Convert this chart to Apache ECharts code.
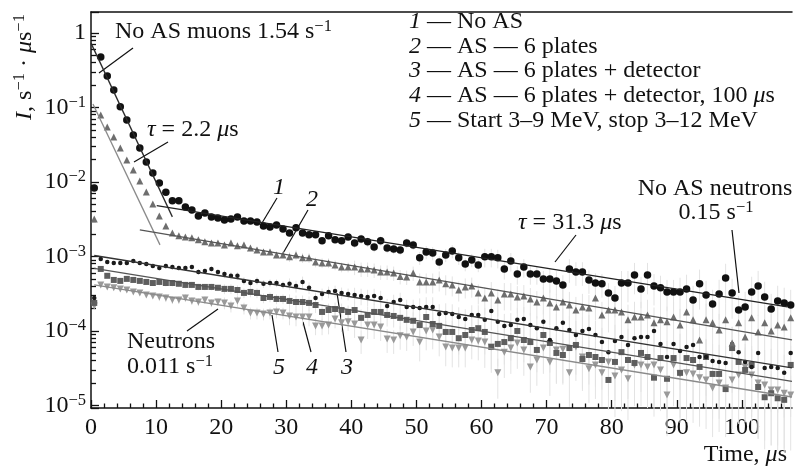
<!DOCTYPE html>
<html>
<head>
<meta charset="utf-8">
<title>Count rate vs time</title>
<script src="https://cdn.jsdelivr.net/npm/echarts@6.0.0/dist/echarts.min.js"></script>
<style>
  html, body { margin: 0; padding: 0; background: #fff; }
  #chart { width: 795px; height: 468px; }
</style>
</head>
<body>
<div id="chart"></div>
<script>
// bin centres, microseconds
const binT = [
  0.5, 1.5, 2.5, 3.5, 4.5, 5.5, 6.5, 7.5, 8.5, 9.5,
  10.5, 11.5, 12.5, 13.5, 14.5, 15.5, 16.5, 17.5, 18.5, 19.5,
  20.5, 21.5, 22.5, 23.5, 24.5, 25.5, 26.5, 27.5, 28.5, 29.5,
  30.5, 31.5, 32.5, 33.5, 34.5, 35.5, 36.5, 37.5, 38.5, 39.5,
  40.5, 41.5, 42.5, 43.5, 44.5, 45.5, 46.5, 47.5, 48.5, 49.5,
  50.5, 51.5, 52.5, 53.5, 54.5, 55.5, 56.5, 57.5, 58.5, 59.5,
  60.5, 61.5, 62.5, 63.5, 64.5, 65.5, 66.5, 67.5, 68.5, 69.5,
  70.5, 71.5, 72.5, 73.5, 74.5, 75.5, 76.5, 77.5, 78.5, 79.5,
  80.5, 81.5, 82.5, 83.5, 84.5, 85.5, 86.5, 87.5, 88.5, 89.5,
  90.5, 91.5, 92.5, 93.5, 94.5, 95.5, 96.5, 97.5, 98.5, 99.5,
  100.5, 101.5, 102.5, 103.5, 104.5, 105.5, 106.5, 107.5
]

// 1 - No AS
const noAS = [
  8.3e-3, 0.476, 0.265, 0.172, 0.102, 0.068, 0.0428, 0.0286, 0.0185, 0.0132,
  9.7e-3, 7.3e-3, 5.6e-3, 5.6e-3, 4.6e-3, 4.2e-3, 3.5e-3, 3.84e-3, 3.39e-3, 3.29e-3,
  3.09e-3, 3.19e-3, 3.39e-3, 3.0e-3, 3.0e-3, 2.9e-3, 2.57e-3, 2.49e-3, 2.65e-3, 2.34e-3,
  2.07e-3, 2.42e-3, 2.07e-3, 1.95e-3, 1.95e-3, 1.62e-3, 1.89e-3, 1.67e-3, 1.62e-3, 1.83e-3,
  1.52e-3, 1.72e-3, 1.57e-3, 1.34e-3, 1.62e-3, 1.3e-3, 1.26e-3, 1.22e-3, 1.52e-3, 1.43e-3,
  9.6e-4, 1.15e-3, 1.11e-3, 8.4e-4, 1.05e-3, 1.18e-3, 9.6e-4, 7.9e-4, 8.97e-4, 7.69e-4,
  9.9e-4, 9.9e-4, 9.6e-4, 6.8e-4, 8.7e-4, 5.8e-4, 7.2e-4, 5.8e-4, 5.8e-4, 5.0e-4,
  5.0e-4, 4.7e-4, 4.15e-4, 6.8e-4, 6.2e-4, 6.2e-4, 4.84e-4, 4.4e-4, 4.3e-4, 3.24e-4,
  2.77e-4, 4.4e-4, 4.4e-4, 5.65e-4, 3.67e-4, 5.65e-4, 4.0e-4, 3.8e-4, 3.34e-4, 3.34e-4,
  3.34e-4, 3.67e-4, 2.61e-4, 4.3e-4, 3.04e-4, 2.3e-4, 3.14e-4, 5.15e-4, 3.24e-4, 1.91e-4,
  2.1e-4, 3.34e-4, 4.0e-4, 2.86e-4, 1.97e-4, 2.53e-4, 2.38e-4, 2.23e-4
]

// 2 - AS, 6 plates
const as6 = [
  3.19e-3, 0.0793, 0.0547, 0.0402, 0.0286, 0.0197, 0.0145, 0.0103, 7.34e-3, 5.07e-3,
  3.5e-3, 2.57e-3, 2.07e-3, 1.89e-3, 1.83e-3, 1.78e-3, 1.67e-3, 1.57e-3, 1.52e-3, 1.52e-3,
  1.43e-3, 1.52e-3, 1.39e-3, 1.43e-3, 1.3e-3, 1.22e-3, 1.15e-3, 1.15e-3, 1.05e-3, 1.05e-3,
  9.9e-4, 1.05e-3, 9.6e-4, 9.6e-4, 8.4e-4, 8.2e-4, 8.2e-4, 7.69e-4, 7.2e-4, 7.2e-4,
  7.2e-4, 6.8e-4, 6.8e-4, 6.59e-4, 6.2e-4, 6.2e-4, 6.0e-4, 5.4e-4, 5.3e-4, 6.0e-4,
  4.55e-4, 4.55e-4, 4.55e-4, 4.84e-4, 4.3e-4, 4.15e-4, 3.55e-4, 3.9e-4, 4.0e-4, 3.24e-4,
  2.77e-4, 3.24e-4, 2.61e-4, 3.14e-4, 3.14e-4, 2.86e-4, 2.95e-4, 2.69e-4, 2.45e-4, 2.77e-4,
  2.38e-4, 2.1e-4, 2.45e-4, 2.23e-4, 1.91e-4, 2.1e-4, 2.03e-4, 2.77e-4, 1.64e-4, 1.91e-4,
  1.91e-4, 1.8e-4, 1.41e-4, 1.54e-4, 1.54e-4, 1.64e-4, 1.29e-4, 1.41e-4, 1.33e-4, 1.54e-4,
  1.2e-4, 1.8e-4, 1.41e-4, 7.57e-5, 1.41e-4, 1.29e-4, 1.03e-4, 1.41e-4, 6.9e-5, 1.29e-4,
  8.3e-5, 1.5e-4, 9.7e-5, 1.29e-4, 1.0e-4, 1.2e-4, 1.13e-4, 1.5e-4
]

// 3 - AS, 6 plates + detector
const as6Det = [
  2.77e-4, 9.25e-4, 8.4e-4, 8.2e-4, 8.2e-4, 8.2e-4, 8.7e-4, 8.2e-4, 7.9e-4, 7.46e-4,
  7.0e-4, 7.46e-4, 7.2e-4, 7.0e-4, 7.0e-4, 7.2e-4, 6.2e-4, 6.4e-4, 6.8e-4, 6.2e-4,
  5.8e-4, 5.5e-4, 5.5e-4, 4.7e-4, 4.4e-4, 4.7e-4, 4.3e-4, 4.4e-4, 4.4e-4, 4.15e-4,
  4.3e-4, 4.0e-4, 4.55e-4, 3.8e-4, 2.77e-4, 3.14e-4, 3.34e-4, 3.44e-4, 3.24e-4, 3.14e-4,
  3.04e-4, 2.95e-4, 2.86e-4, 2.95e-4, 2.77e-4, 2.16e-4, 2.45e-4, 2.61e-4, 2.1e-4, 2.1e-4,
  2.03e-4, 2.1e-4, 2.1e-4, 1.69e-4, 1.74e-4, 1.69e-4, 1.54e-4, 1.45e-4, 1.64e-4, 1.64e-4,
  1.41e-4, 1.85e-4, 1.33e-4, 1.17e-4, 1.2e-4, 1.41e-4, 1.45e-4, 1.2e-4, 1.09e-4, 1.33e-4,
  7.57e-5, 1.09e-4, 1.29e-4, 1.03e-4, 8.83e-5, 1.0e-4, 1.06e-4, 8.83e-5, 7.1e-5, 5.2e-5,
  7.34e-5, 8.3e-5, 6.49e-5, 8.0e-5, 8.3e-5, 8.3e-5, 1.0e-4, 6.7e-5, 4.47e-5, 6.7e-5,
  5.4e-5, 6.1e-5, 6.49e-5, 4.47e-5, 4.47e-5, 3.96e-5, 3.84e-5, 3.72e-5, 6.7e-5, 5.2e-5,
  3.84e-5, 3.29e-5, 5.07e-5, 3.19e-5, 3.29e-5, 3.19e-5, 2.74e-5, 5.07e-5
]

// 4 - AS, 6 plates + detector, 100 us
const as6Det100 = [
  2.38e-4, 6.8e-4, 5.5e-4, 4.84e-4, 4.7e-4, 5.0e-4, 4.84e-4, 4.7e-4, 4.55e-4, 4.4e-4,
  4.55e-4, 4.4e-4, 4.4e-4, 4.3e-4, 4.15e-4, 4.15e-4, 3.9e-4, 3.9e-4, 3.9e-4, 3.8e-4,
  3.67e-4, 3.67e-4, 3.55e-4, 3.24e-4, 3.34e-4, 3.24e-4, 2.77e-4, 2.86e-4, 2.69e-4, 2.69e-4,
  2.53e-4, 2.45e-4, 2.45e-4, 2.38e-4, 2.23e-4, 1.8e-4, 1.91e-4, 1.97e-4, 1.91e-4, 1.8e-4,
  1.91e-4, 1.5e-4, 1.64e-4, 1.8e-4, 1.8e-4, 1.64e-4, 1.59e-4, 1.5e-4, 1.41e-4, 1.37e-4,
  1.2e-4, 1.54e-4, 1.24e-4, 1.17e-4, 9.7e-5, 9.7e-5, 8.0e-5, 8.83e-5, 1.03e-4, 1.09e-4,
  9.7e-5, 6.1e-5, 6.7e-5, 7.1e-5, 8.0e-5, 1.0e-4, 7.57e-5, 7.1e-5, 5.56e-5, 8.83e-5,
  6.9e-5, 5.07e-5, 4.76e-5, 5.9e-5, 6.49e-5, 4.2e-5, 4.76e-5, 4.47e-5, 4.08e-5, 2.2e-5,
  3.84e-5, 5.2e-5, 4.08e-5, 3.72e-5, 5.07e-5, 4.47e-5, 2.36e-5, 4.33e-5, 2.28e-5, 4.33e-5,
  2.74e-5, 4.33e-5, 4.08e-5, 3.29e-5, 4.47e-5, 2.65e-5, 2.65e-5, 1.66e-5, 5.9e-5, 3.84e-5,
  3.0e-5, 3.5e-5, 1.77e-5, 1.29e-5, 1.46e-5, 1.25e-5, 1.19e-5, 3.5e-5
]

// 5 - start 3-9 MeV, stop 3-12 MeV
const startStop = [
  2.16e-4, 4.15e-4, 3.9e-4, 3.8e-4, 3.67e-4, 3.55e-4, 3.34e-4, 3.24e-4, 3.04e-4, 2.95e-4,
  2.86e-4, 2.77e-4, 2.61e-4, 2.61e-4, 2.77e-4, 2.53e-4, 2.45e-4, 2.61e-4, 2.38e-4, 2.45e-4,
  2.38e-4, 2.16e-4, 2.53e-4, 2.03e-4, 1.74e-4, 1.74e-4, 1.69e-4, 1.74e-4, 1.8e-4, 1.74e-4,
  1.59e-4, 1.54e-4, 1.54e-4, 1.54e-4, 1.17e-4, 1.17e-4, 1.2e-4, 1.45e-4, 1.29e-4, 1.33e-4,
  1.24e-4, 7.57e-5, 1.2e-4, 1.2e-4, 1.13e-4, 7.8e-5, 7.57e-5, 8.6e-5, 8.3e-5, 9.7e-5,
  7.1e-5, 1.0e-4, 1.03e-4, 8.3e-5, 6.1e-5, 5.9e-5, 5.9e-5, 5.9e-5, 7.57e-5, 7.34e-5,
  7.1e-5, 6.1e-5, 2.74e-5, 5.2e-5, 5.9e-5, 6.9e-5, 5.56e-5, 3.29e-5, 4.08e-5, 5.9e-5,
  3.84e-5, 5.56e-5, 5.7e-5, 2.74e-5, 6.1e-5, 4.47e-5, 3.1e-5, 3.5e-5, 2.74e-5, 3.84e-5,
  2.49e-5, 3.0e-5, 2.28e-5, 3.5e-5, 3.5e-5, 3.29e-5, 3.5e-5, 3.0e-5, 1.38e-5, 3.5e-5,
  2.65e-5, 2.74e-5, 2.65e-5, 2.36e-5, 2.2e-5, 1.71e-5, 2.0e-5, 1.71e-5, 2.2e-5, 2.57e-5,
  3.29e-5, 2.57e-5, 2.0e-5, 1.88e-5, 1.61e-5, 1.61e-5, 1.46e-5, 1.38e-5
]

// relative error per 10 us block (0-10, 10-20, ... 100-108)
const noASErr = [0.02, 0.04, 0.06, 0.1, 0.15, 0.2, 0.28, 0.35, 0.45, 0.55, 0.6]
const as6Err = [0.03, 0.06, 0.1, 0.15, 0.22, 0.3, 0.4, 0.5, 0.6, 0.65, 0.7]
const as6DetErr = [0.05, 0.08, 0.12, 0.18, 0.25, 0.35, 0.45, 0.55, 0.65, 0.7, 0.75]
const as6Det100Err = [0.06, 0.1, 0.15, 0.22, 0.3, 0.4, 0.5, 0.6, 0.7, 0.75, 0.8]
const startStopErr = [0.07, 0.12, 0.18, 0.25, 0.35, 0.45, 0.55, 0.65, 0.72, 0.78, 0.82]

// fitted exponentials, end points [t, I]
const fitMuonNoAS = [[0, 0.73], [12.5, 3.4e-3]]
const fitMuonAS = [[0.3, 0.111], [10.6, 1.43e-3]]
const fitNoAS = [[10.1, 4.8e-3], [107, 2.1e-4]]
const fitAS6 = [[7.5, 2.27e-3], [107.7, 7.6e-5]]
const fitAS6Det = [[0.5, 1.03e-3], [107.7, 3.2e-5]]
const fitAS6Det100 = [[0.5, 6.9e-4], [107.7, 2.1e-5]]
const fitStartStop = [[0.5, 4.15e-4], [107.7, 1.3e-5]]

const xLabels = [0, 10, 20, 30, 40, 50, 60, 70, 80, 90, 100]
const yDecades = [1e-5, 1e-4, 1e-3, 1e-2, 1e-1, 1]

const X_MAX = 107.7
const Y_MIN = 9.25e-6
const Y_MAX = 1.91
const FF = 'Liberation Serif'
const INK = '#111'
const FS = 24

const R = {
    n: { fontSize: FS, lineHeight: 27, fontFamily: FF, fill: INK },
    i: { fontSize: FS, lineHeight: 27, fontFamily: FF, fontStyle: 'italic', fill: INK },
    s: { fontSize: 16.5, lineHeight: 17, fontFamily: FF, fill: INK, verticalAlign: 'top' }
}

const pts = vals => vals.map((v, i) => [binT[i], v])

const scatter = (name, vals, symbol, size, color, rotate) => ({
    name,
    type: 'scatter',
    data: pts(vals),
    symbol,
    symbolSize: size,
    symbolRotate: rotate || 0,
    itemStyle: { color, opacity: 1 },
    silent: true,
    z: 3
})

const errBars = (vals, rel) => ({
    type: 'custom',
    silent: true,
    clip: false,
    z: 1,
    encode: { x: 0, y: [1, 2] },
    data: vals.map((v, i) => {
        const r = rel[Math.floor(binT[i] / 10)]
        return [binT[i], v * (1 - r), v * (1 + r)]
    }),
    renderItem: (params, api) => {
        const lo = api.coord([api.value(0), api.value(1)])
        const hi = api.coord([api.value(0), api.value(2)])
        return {
            type: 'line',
            shape: { x1: lo[0], y1: lo[1], x2: hi[0], y2: hi[1] },
            style: { stroke: '#e3e3e3', lineWidth: 1 }
        }
    }
})

const fit = (data, color) => ({
    type: 'line',
    data,
    symbol: 'none',
    lineStyle: { color, width: 1.3 },
    silent: true,
    z: 4
})

const xMinor = []
for (let t = 2; t < X_MAX; t += 2) if (t % 10) xMinor.push(t)
const yMinor = []
yDecades.forEach(d => [2, 3, 4, 5, 6, 7, 8, 9].forEach(k => {
    if (d * k < Y_MAX) yMinor.push(d * k)
}))

const text = (x, y, t, align) => ({
    type: 'text', x, y, silent: true,
    style: { text: t, rich: R, align: align || 'left', verticalAlign: 'middle', fontSize: FS, fontFamily: FF, fill: INK }
})
const seg = (x1, y1, x2, y2) => ({
    type: 'line', silent: true,
    shape: { x1, y1, x2, y2 },
    style: { stroke: INK, lineWidth: 1.2 }
})

const axisLine = { show: true, onZero: false, lineStyle: { color: INK, width: 1.5 } }
const tickLine = { color: INK, width: 1.3 }
const hidden = { show: false }

const chart = echarts.init(document.getElementById('chart'))
chart.setOption({
    animation: false,
    backgroundColor: '#fff',
    grid: { left: 91, right: 0, top: 12, bottom: 60 },
    xAxis: [{
        type: 'value', min: 0, max: X_MAX, interval: 10,
        axisLine, splitLine: hidden,
        axisTick: { show: true, inside: true, length: 8, lineStyle: tickLine, customValues: xLabels },
        axisLabel: {
            margin: 8, fontSize: FS, fontFamily: FF, color: INK,
            formatter: v => xLabels.indexOf(v) >= 0 ? String(v) : ''
        }
    }, {
        // top frame line
        type: 'value', position: 'top', min: 0, max: X_MAX,
        axisLine, axisTick: hidden, axisLabel: hidden, splitLine: hidden
    }, {
        // minor time ticks every 2 us
        type: 'value', position: 'bottom', min: 0, max: X_MAX,
        axisLine: hidden, axisLabel: hidden, splitLine: hidden,
        axisTick: { show: true, inside: true, length: 4.5, lineStyle: tickLine, customValues: xMinor }
    }],
    yAxis: [{
        type: 'log', logBase: 10, min: Y_MIN, max: Y_MAX,
        axisLine, splitLine: hidden,
        axisTick: { show: true, inside: true, length: 8, lineStyle: tickLine },
        axisLabel: {
            margin: 5, color: INK, fontFamily: FF, fontSize: FS,
            formatter: v => {
                const e = Math.log10(v), r = Math.round(e)
                if (Math.abs(e - r) > 1e-6) return ''
                return r === 0 ? '{b|1}' : '{b|10}{s|−' + (-r) + '}'
            },
            rich: {
                b: { fontSize: FS, lineHeight: 27, fontFamily: FF, color: INK },
                s: { fontSize: 16.5, lineHeight: 17, fontFamily: FF, color: INK, verticalAlign: 'top' }
            }
        }
    }, {
        // minor ticks at 2..9 x 10^k
        type: 'log', logBase: 10, min: Y_MIN, max: Y_MAX, position: 'left',
        axisLine: hidden, axisLabel: hidden, splitLine: hidden,
        axisTick: { show: true, inside: true, length: 5, lineStyle: tickLine, customValues: yMinor }
    }],
    series: [
        errBars(startStop, startStopErr),
        errBars(as6Det100, as6Det100Err),
        errBars(as6Det, as6DetErr),
        errBars(as6, as6Err),
        errBars(noAS, noASErr),
        scatter('5', startStop, 'triangle', 7, '#9a9a9a', 180),
        scatter('4', as6Det100, 'rect', 6, '#5e5e5e'),
        scatter('3', as6Det, 'circle', 4.5, '#1a1a1a'),
        scatter('2', as6, 'triangle', 7, '#6e6e6e'),
        scatter('1', noAS, 'circle', 7.5, '#111'),
        fit(fitMuonNoAS, '#2a2a2a'),
        fit(fitMuonAS, '#8a8a8a'),
        fit(fitNoAS, '#222'),
        fit(fitAS6, '#555'),
        fit(fitAS6Det, '#333'),
        fit(fitAS6Det100, '#555'),
        fit(fitStartStop, '#8a8a8a')
    ],
    graphic: [
        {
            type: 'text', x: 25, y: 67, rotation: Math.PI / 2, silent: true,
            style: { text: '{i|I}{n|, s}{s|−1}{n| · }{i|μ}{n|s}{s|−1}', rich: R, align: 'center', verticalAlign: 'middle', fontSize: FS, fontFamily: FF, fill: INK }
        },
        text(115, 32, '{n|No AS muons 1.54 s}{s|−1}'),
        text(147, 130, '{i|τ}{n| = 2.2 }{i|μ}{n|s}'),
        text(409, 22, '{i|1}{n| — No AS}'),
        text(409, 47, '{i|2}{n| — AS — 6 plates}'),
        text(409, 71, '{i|3}{n| — AS — 6 plates + detector}'),
        text(409, 96, '{i|4}{n| — AS — 6 plates + detector, 100 }{i|μ}{n|s}'),
        text(409, 121, '{i|5}{n| — Start 3–9 MeV, stop 3–12 MeV}'),
        text(715, 189, '{n|No AS neutrons}', 'center'),
        text(716, 213, '{n|0.15 s}{s|−1}', 'center'),
        text(518, 223, '{i|τ}{n| = 31.3 }{i|μ}{n|s}'),
        text(127, 342, '{n|Neutrons}'),
        text(127, 367, '{n|0.011 s}{s|−1}'),
        text(279, 188, '{i|1}', 'center'),
        text(312, 200, '{i|2}', 'center'),
        text(279, 368, '{i|5}', 'center'),
        text(312, 368, '{i|4}', 'center'),
        text(347, 368, '{i|3}', 'center'),
        text(787, 455, '{n|Time, }{i|μ}{n|s}', 'right'),
        seg(133, 48, 99, 73),
        seg(168, 142, 134, 162),
        seg(277, 198, 262, 223),
        seg(308, 210, 282, 255),
        seg(576, 235, 555, 262),
        seg(732, 230, 739, 293),
        seg(187, 331, 218, 309),
        seg(278, 352, 272, 315),
        seg(311, 352, 303, 322),
        seg(346, 352, 337, 293)
    ]
})
</script>
</body>
</html>
